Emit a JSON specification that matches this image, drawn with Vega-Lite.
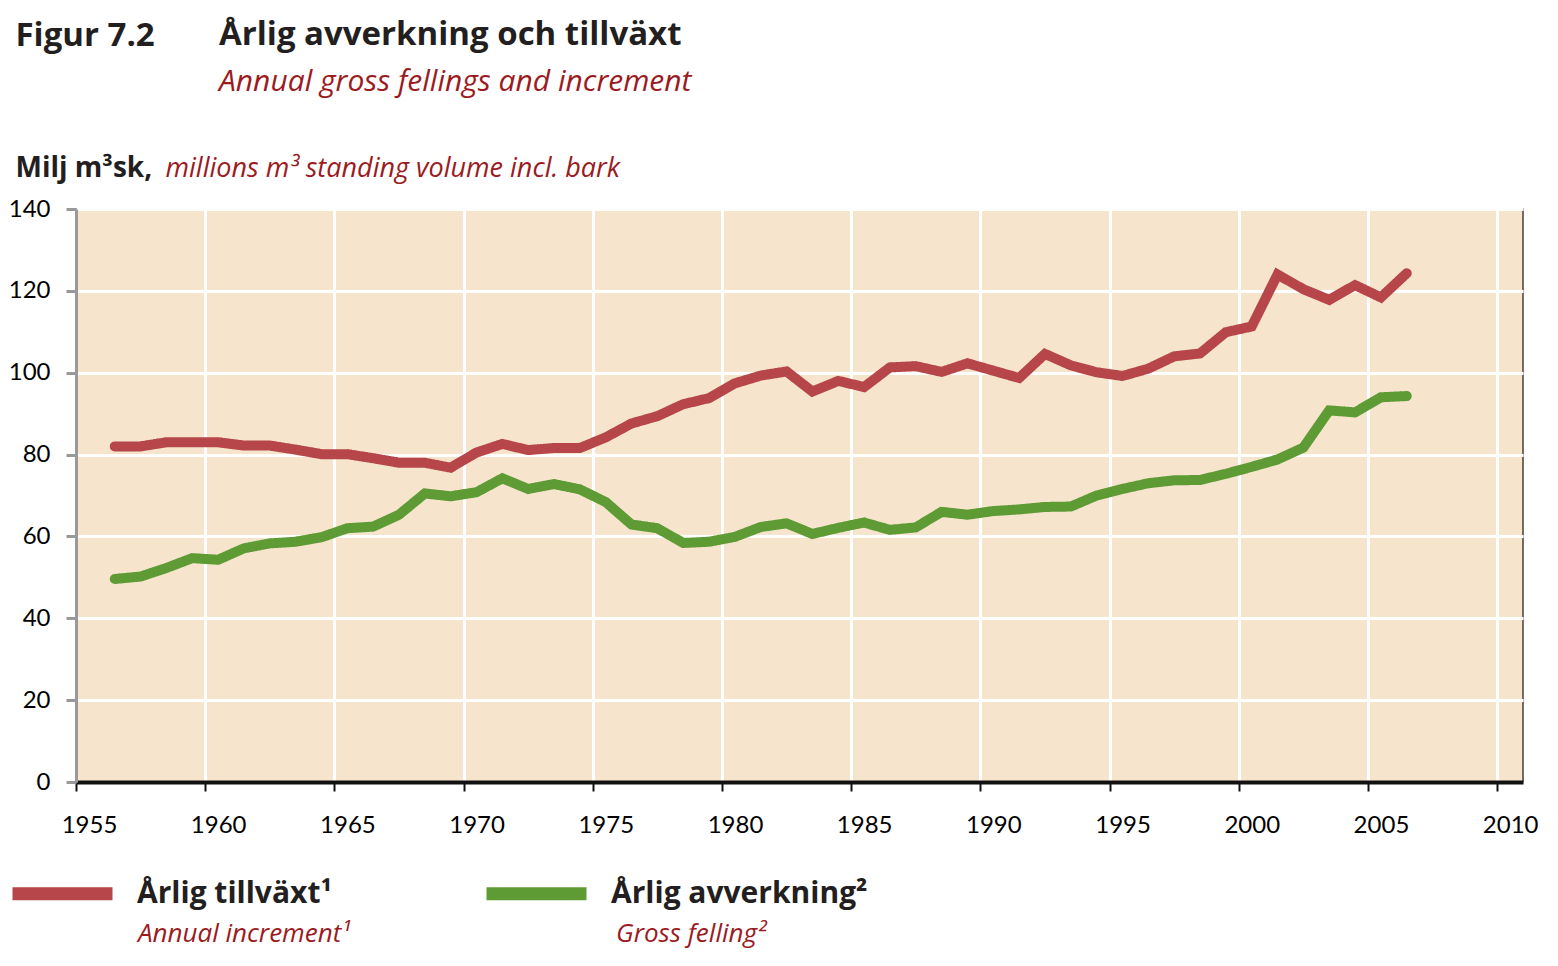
{
  "$schema": "https://vega.github.io/schema/vega-lite/v6.json",
  "autosize": "none",
  "width": 1447,
  "height": 573,
  "padding": {"left": 76, "top": 209, "right": 35, "bottom": 184},
  "background": "white",
  "config": {
    "font": "Open Sans",
    "view": {"fill": "#F6E4CC", "stroke": "#4a3f36", "strokeWidth": 1.5}
  },
  "title": {
    "text": "Årlig avverkning och tillväxt",
    "subtitle": "Annual gross fellings and increment",
    "anchor": "start",
    "frame": "group",
    "dx": 143,
    "offset": -78,
    "font": "Open Sans",
    "fontSize": 33,
    "fontWeight": "bold",
    "color": "#231f20",
    "subtitleFont": "Open Sans",
    "subtitleFontSize": 30,
    "subtitleFontStyle": "italic",
    "subtitleColor": "#9B1B1F",
    "subtitlePadding": 15
  },
  "data": {
    "values": [
      {"year": 1956.5, "v": 82, "s": "Årlig tillväxt¹", "e": "Annual increment¹"},
      {"year": 1957.5, "v": 82, "s": "Årlig tillväxt¹", "e": "Annual increment¹"},
      {"year": 1958.5, "v": 83, "s": "Årlig tillväxt¹", "e": "Annual increment¹"},
      {"year": 1959.5, "v": 83, "s": "Årlig tillväxt¹", "e": "Annual increment¹"},
      {"year": 1960.5, "v": 83, "s": "Årlig tillväxt¹", "e": "Annual increment¹"},
      {"year": 1961.5, "v": 82.2, "s": "Årlig tillväxt¹", "e": "Annual increment¹"},
      {"year": 1962.5, "v": 82.2, "s": "Årlig tillväxt¹", "e": "Annual increment¹"},
      {"year": 1963.5, "v": 81.2, "s": "Årlig tillväxt¹", "e": "Annual increment¹"},
      {"year": 1964.5, "v": 80.1, "s": "Årlig tillväxt¹", "e": "Annual increment¹"},
      {"year": 1965.5, "v": 80.1, "s": "Årlig tillväxt¹", "e": "Annual increment¹"},
      {"year": 1966.5, "v": 79.1, "s": "Årlig tillväxt¹", "e": "Annual increment¹"},
      {"year": 1967.5, "v": 78, "s": "Årlig tillväxt¹", "e": "Annual increment¹"},
      {"year": 1968.5, "v": 78, "s": "Årlig tillväxt¹", "e": "Annual increment¹"},
      {"year": 1969.5, "v": 76.8, "s": "Årlig tillväxt¹", "e": "Annual increment¹"},
      {"year": 1970.5, "v": 80.5, "s": "Årlig tillväxt¹", "e": "Annual increment¹"},
      {"year": 1971.5, "v": 82.6, "s": "Årlig tillväxt¹", "e": "Annual increment¹"},
      {"year": 1972.5, "v": 81.1, "s": "Årlig tillväxt¹", "e": "Annual increment¹"},
      {"year": 1973.5, "v": 81.6, "s": "Årlig tillväxt¹", "e": "Annual increment¹"},
      {"year": 1974.5, "v": 81.6, "s": "Årlig tillväxt¹", "e": "Annual increment¹"},
      {"year": 1975.5, "v": 84.2, "s": "Årlig tillväxt¹", "e": "Annual increment¹"},
      {"year": 1976.5, "v": 87.6, "s": "Årlig tillväxt¹", "e": "Annual increment¹"},
      {"year": 1977.5, "v": 89.4, "s": "Årlig tillväxt¹", "e": "Annual increment¹"},
      {"year": 1978.5, "v": 92.3, "s": "Årlig tillväxt¹", "e": "Annual increment¹"},
      {"year": 1979.5, "v": 93.8, "s": "Årlig tillväxt¹", "e": "Annual increment¹"},
      {"year": 1980.5, "v": 97.4, "s": "Årlig tillväxt¹", "e": "Annual increment¹"},
      {"year": 1981.5, "v": 99.3, "s": "Årlig tillväxt¹", "e": "Annual increment¹"},
      {"year": 1982.5, "v": 100.3, "s": "Årlig tillväxt¹", "e": "Annual increment¹"},
      {"year": 1983.5, "v": 95.4, "s": "Årlig tillväxt¹", "e": "Annual increment¹"},
      {"year": 1984.5, "v": 98, "s": "Årlig tillväxt¹", "e": "Annual increment¹"},
      {"year": 1985.5, "v": 96.5, "s": "Årlig tillväxt¹", "e": "Annual increment¹"},
      {"year": 1986.5, "v": 101.3, "s": "Årlig tillväxt¹", "e": "Annual increment¹"},
      {"year": 1987.5, "v": 101.6, "s": "Årlig tillväxt¹", "e": "Annual increment¹"},
      {"year": 1988.5, "v": 100.2, "s": "Årlig tillväxt¹", "e": "Annual increment¹"},
      {"year": 1989.5, "v": 102.3, "s": "Årlig tillväxt¹", "e": "Annual increment¹"},
      {"year": 1990.5, "v": 100.5, "s": "Årlig tillväxt¹", "e": "Annual increment¹"},
      {"year": 1991.5, "v": 98.7, "s": "Årlig tillväxt¹", "e": "Annual increment¹"},
      {"year": 1992.5, "v": 104.6, "s": "Årlig tillväxt¹", "e": "Annual increment¹"},
      {"year": 1993.5, "v": 101.8, "s": "Årlig tillväxt¹", "e": "Annual increment¹"},
      {"year": 1994.5, "v": 100.1, "s": "Årlig tillväxt¹", "e": "Annual increment¹"},
      {"year": 1995.5, "v": 99.2, "s": "Årlig tillväxt¹", "e": "Annual increment¹"},
      {"year": 1996.5, "v": 101, "s": "Årlig tillväxt¹", "e": "Annual increment¹"},
      {"year": 1997.5, "v": 104, "s": "Årlig tillväxt¹", "e": "Annual increment¹"},
      {"year": 1998.5, "v": 104.7, "s": "Årlig tillväxt¹", "e": "Annual increment¹"},
      {"year": 1999.5, "v": 109.9, "s": "Årlig tillväxt¹", "e": "Annual increment¹"},
      {"year": 2000.5, "v": 111.3, "s": "Årlig tillväxt¹", "e": "Annual increment¹"},
      {"year": 2001.5, "v": 124, "s": "Årlig tillväxt¹", "e": "Annual increment¹"},
      {"year": 2002.5, "v": 120.4, "s": "Årlig tillväxt¹", "e": "Annual increment¹"},
      {"year": 2003.5, "v": 117.8, "s": "Årlig tillväxt¹", "e": "Annual increment¹"},
      {"year": 2004.5, "v": 121.4, "s": "Årlig tillväxt¹", "e": "Annual increment¹"},
      {"year": 2005.5, "v": 118.4, "s": "Årlig tillväxt¹", "e": "Annual increment¹"},
      {"year": 2006.5, "v": 124.3, "s": "Årlig tillväxt¹", "e": "Annual increment¹"},
      {"year": 1956.5, "v": 49.6, "s": "Årlig avverkning²", "e": "Gross felling²"},
      {"year": 1957.5, "v": 50.2, "s": "Årlig avverkning²", "e": "Gross felling²"},
      {"year": 1958.5, "v": 52.3, "s": "Årlig avverkning²", "e": "Gross felling²"},
      {"year": 1959.5, "v": 54.7, "s": "Årlig avverkning²", "e": "Gross felling²"},
      {"year": 1960.5, "v": 54.3, "s": "Årlig avverkning²", "e": "Gross felling²"},
      {"year": 1961.5, "v": 57.1, "s": "Årlig avverkning²", "e": "Gross felling²"},
      {"year": 1962.5, "v": 58.3, "s": "Årlig avverkning²", "e": "Gross felling²"},
      {"year": 1963.5, "v": 58.7, "s": "Årlig avverkning²", "e": "Gross felling²"},
      {"year": 1964.5, "v": 59.8, "s": "Årlig avverkning²", "e": "Gross felling²"},
      {"year": 1965.5, "v": 62, "s": "Årlig avverkning²", "e": "Gross felling²"},
      {"year": 1966.5, "v": 62.4, "s": "Årlig avverkning²", "e": "Gross felling²"},
      {"year": 1967.5, "v": 65.3, "s": "Årlig avverkning²", "e": "Gross felling²"},
      {"year": 1968.5, "v": 70.5, "s": "Årlig avverkning²", "e": "Gross felling²"},
      {"year": 1969.5, "v": 69.8, "s": "Årlig avverkning²", "e": "Gross felling²"},
      {"year": 1970.5, "v": 70.8, "s": "Årlig avverkning²", "e": "Gross felling²"},
      {"year": 1971.5, "v": 74.2, "s": "Årlig avverkning²", "e": "Gross felling²"},
      {"year": 1972.5, "v": 71.6, "s": "Årlig avverkning²", "e": "Gross felling²"},
      {"year": 1973.5, "v": 72.8, "s": "Årlig avverkning²", "e": "Gross felling²"},
      {"year": 1974.5, "v": 71.5, "s": "Årlig avverkning²", "e": "Gross felling²"},
      {"year": 1975.5, "v": 68.4, "s": "Årlig avverkning²", "e": "Gross felling²"},
      {"year": 1976.5, "v": 62.9, "s": "Årlig avverkning²", "e": "Gross felling²"},
      {"year": 1977.5, "v": 62, "s": "Årlig avverkning²", "e": "Gross felling²"},
      {"year": 1978.5, "v": 58.4, "s": "Årlig avverkning²", "e": "Gross felling²"},
      {"year": 1979.5, "v": 58.7, "s": "Årlig avverkning²", "e": "Gross felling²"},
      {"year": 1980.5, "v": 59.9, "s": "Årlig avverkning²", "e": "Gross felling²"},
      {"year": 1981.5, "v": 62.3, "s": "Årlig avverkning²", "e": "Gross felling²"},
      {"year": 1982.5, "v": 63.2, "s": "Årlig avverkning²", "e": "Gross felling²"},
      {"year": 1983.5, "v": 60.6, "s": "Årlig avverkning²", "e": "Gross felling²"},
      {"year": 1984.5, "v": 62.1, "s": "Årlig avverkning²", "e": "Gross felling²"},
      {"year": 1985.5, "v": 63.4, "s": "Årlig avverkning²", "e": "Gross felling²"},
      {"year": 1986.5, "v": 61.6, "s": "Årlig avverkning²", "e": "Gross felling²"},
      {"year": 1987.5, "v": 62.2, "s": "Årlig avverkning²", "e": "Gross felling²"},
      {"year": 1988.5, "v": 66, "s": "Årlig avverkning²", "e": "Gross felling²"},
      {"year": 1989.5, "v": 65.3, "s": "Årlig avverkning²", "e": "Gross felling²"},
      {"year": 1990.5, "v": 66.2, "s": "Årlig avverkning²", "e": "Gross felling²"},
      {"year": 1991.5, "v": 66.6, "s": "Årlig avverkning²", "e": "Gross felling²"},
      {"year": 1992.5, "v": 67.2, "s": "Årlig avverkning²", "e": "Gross felling²"},
      {"year": 1993.5, "v": 67.3, "s": "Årlig avverkning²", "e": "Gross felling²"},
      {"year": 1994.5, "v": 70, "s": "Årlig avverkning²", "e": "Gross felling²"},
      {"year": 1995.5, "v": 71.6, "s": "Årlig avverkning²", "e": "Gross felling²"},
      {"year": 1996.5, "v": 73, "s": "Årlig avverkning²", "e": "Gross felling²"},
      {"year": 1997.5, "v": 73.7, "s": "Årlig avverkning²", "e": "Gross felling²"},
      {"year": 1998.5, "v": 73.8, "s": "Årlig avverkning²", "e": "Gross felling²"},
      {"year": 1999.5, "v": 75.3, "s": "Årlig avverkning²", "e": "Gross felling²"},
      {"year": 2000.5, "v": 77, "s": "Årlig avverkning²", "e": "Gross felling²"},
      {"year": 2001.5, "v": 78.8, "s": "Årlig avverkning²", "e": "Gross felling²"},
      {"year": 2002.5, "v": 81.7, "s": "Årlig avverkning²", "e": "Gross felling²"},
      {"year": 2003.5, "v": 90.8, "s": "Årlig avverkning²", "e": "Gross felling²"},
      {"year": 2004.5, "v": 90.3, "s": "Årlig avverkning²", "e": "Gross felling²"},
      {"year": 2005.5, "v": 94, "s": "Årlig avverkning²", "e": "Gross felling²"},
      {"year": 2006.5, "v": 94.3, "s": "Årlig avverkning²", "e": "Gross felling²"}
    ]
  },
  "encoding": {
    "x": {
      "field": "year",
      "type": "quantitative",
      "scale": {"domain": [1955, 2011], "nice": false, "zero": false},
      "axis": {
        "values": [1955, 1960, 1965, 1970, 1975, 1980, 1985, 1990, 1995, 2000, 2005, 2010],
        "format": "d",
        "grid": true,
        "gridColor": "white",
        "gridWidth": 3,
        "gridOpacity": 1,
        "domainColor": "#111111",
        "domainWidth": 4,
        "tickColor": "#111111",
        "tickWidth": 2,
        "tickSize": 9,
        "labelFont": "Lato",
        "labelFontSize": 24,
        "labelColor": "#000000",
        "labelPadding": 22,
        "labelOffset": 13,
        "labelFlush": false,
        "title": "Figur 7.2",
        "titleX": -61,
        "titleY": -737,
        "titleAlign": "left",
        "titleBaseline": "alphabetic",
        "titleAnchor": null,
        "titleFont": "Open Sans",
        "titleFontSize": 33,
        "titleFontWeight": "bold",
        "titleColor": "#231f20"
      }
    }
  },
  "layer": [
    {
      "mark": {"type": "line", "strokeWidth": 10, "strokeCap": "round", "strokeJoin": "miter"},
      "encoding": {
        "y": {
          "field": "v",
          "type": "quantitative",
          "scale": {"domain": [0, 140], "nice": false},
          "axis": {
            "orient": "left",
            "values": [0, 20, 40, 60, 80, 100, 120, 140],
            "grid": true,
            "gridColor": "white",
            "gridWidth": 3,
            "gridOpacity": 1,
            "domainColor": "#999999",
            "domainWidth": 3,
            "tickColor": "#999999",
            "tickWidth": 3,
            "tickSize": 10,
            "labelFont": "Lato",
            "labelFontSize": 24,
            "labelColor": "#000000",
            "labelPadding": 16,
            "title": "Milj m³sk,",
            "titleAngle": 0,
            "titleAlign": "left",
            "titleBaseline": "alphabetic",
            "titleAnchor": null,
            "titleX": -61,
            "titleY": -33,
            "titleFont": "Open Sans",
            "titleFontSize": 28,
            "titleFontWeight": "bold",
            "titleColor": "#231f20"
          }
        },
        "color": {
          "field": "s",
          "type": "nominal",
          "scale": {"domain": ["Årlig tillväxt¹", "Årlig avverkning²"], "range": ["#B6464A", "#5E9B35"]},
          "legend": {
            "orient": "none",
            "legendX": -70,
            "legendY": 628,
            "direction": "horizontal",
            "title": null,
            "symbolType": "stroke",
            "symbolSize": 10000,
            "symbolStrokeWidth": 13,
            "symbolOpacity": 1,
            "labelFont": "Open Sans",
            "labelFontSize": 30,
            "labelFontWeight": "bold",
            "labelColor": "#231f20",
            "labelOffset": 18,
            "labelLimit": 500,
            "columnPadding": 128
          }
        },
        "strokeDash": {
          "field": "e",
          "type": "nominal",
          "scale": {"domain": ["Annual increment¹", "Gross felling²"], "range": [[1, 0], [1, 0]]},
          "legend": {
            "orient": "none",
            "legendX": -70,
            "legendY": 675,
            "direction": "horizontal",
            "title": null,
            "symbolType": "stroke",
            "symbolSize": 10000,
            "symbolStrokeWidth": 0,
            "symbolOpacity": 0,
            "labelFont": "Open Sans",
            "labelFontSize": 26,
            "labelFontStyle": "italic",
            "labelColor": "#9B1B1F",
            "labelOffset": 32,
            "labelLimit": 500,
            "columnPadding": 133
          }
        }
      }
    },
    {
      "mark": {"type": "line", "opacity": 0},
      "encoding": {
        "detail": {"field": "s"},
        "y": {
          "field": "v",
          "type": "quantitative",
          "axis": {
            "orient": "left",
            "labels": false,
            "ticks": false,
            "domain": false,
            "grid": false,
            "title": "millions m³ standing volume incl. bark",
            "titleAngle": 0,
            "titleAlign": "left",
            "titleBaseline": "alphabetic",
            "titleAnchor": null,
            "titleX": 89,
            "titleY": -33,
            "titleFont": "Open Sans",
            "titleFontSize": 27,
            "titleFontWeight": "normal",
            "titleFontStyle": "italic",
            "titleColor": "#9B1B1F"
          }
        }
      }
    }
  ],
  "resolve": {"axis": {"y": "independent"}}
}
